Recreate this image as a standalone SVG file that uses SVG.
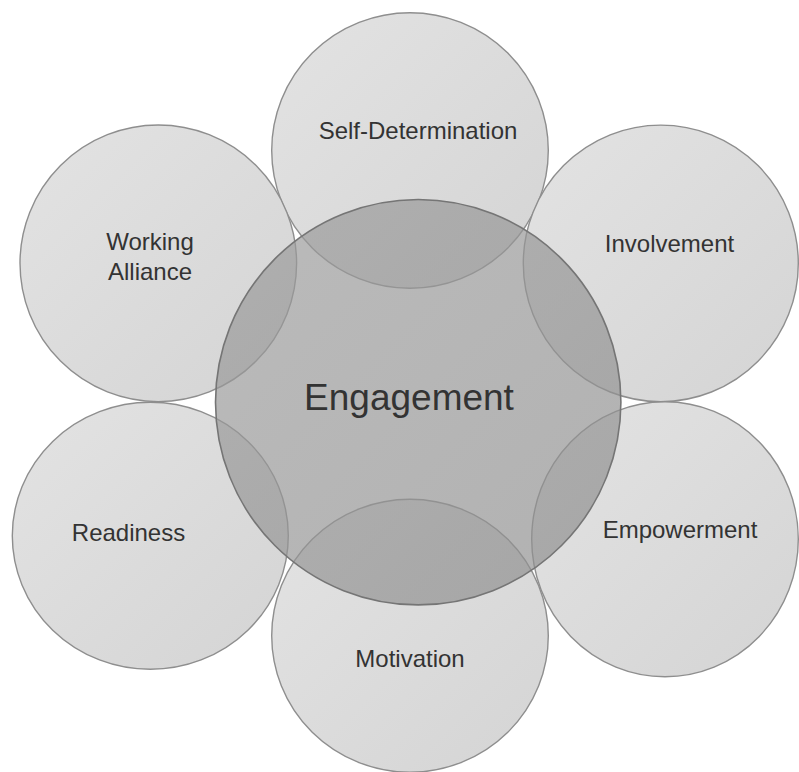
<svg xmlns="http://www.w3.org/2000/svg" width="799" height="772" viewBox="0 0 799 772">
<defs>
<linearGradient id="gOuter" x1="0" y1="0" x2="1" y2="1">
<stop offset="0" stop-color="#e3e3e3"/>
<stop offset="1" stop-color="#d4d4d4"/>
</linearGradient>
<linearGradient id="gCenter" x1="0" y1="0" x2="1" y2="1">
<stop offset="0" stop-color="#9c9c9c"/>
<stop offset="1" stop-color="#8e8e8e"/>
</linearGradient>
<style>
.outer{fill:url(#gOuter);stroke:#8e8e8e;stroke-width:1.4}
.center{fill:url(#gCenter);fill-opacity:0.69;stroke:#757575;stroke-width:1.6}
.lbl{font-family:"Liberation Sans",Arial,sans-serif;font-size:24px;fill:#333333;text-anchor:middle}
.big{font-family:"Liberation Sans",Arial,sans-serif;font-size:37px;fill:#333333;text-anchor:middle}
</style>
</defs>
<rect width="799" height="772" fill="#ffffff"/>
<g id="self-determination">
<ellipse class="outer" cx="410" cy="150.5" rx="138.3" ry="137.8"/>
<text class="lbl" x="418" y="139">Self-Determination</text>
</g>
<g id="working-alliance">
<ellipse class="outer" cx="158.3" cy="263.3" rx="138.3" ry="138.3"/>
<text class="lbl" x="150" y="250">Working</text>
<text class="lbl" x="150" y="280">Alliance</text>
</g>
<g id="involvement">
<ellipse class="outer" cx="660.8" cy="263.4" rx="137.5" ry="138.3"/>
<text class="lbl" x="669.5" y="252">Involvement</text>
</g>
<g id="readiness">
<ellipse class="outer" cx="150.3" cy="535.8" rx="138" ry="133.5"/>
<text class="lbl" x="128.5" y="541">Readiness</text>
</g>
<g id="empowerment">
<ellipse class="outer" cx="665" cy="539.2" rx="133.3" ry="137.5"/>
<text class="lbl" x="680" y="538">Empowerment</text>
</g>
<g id="motivation">
<ellipse class="outer" cx="410" cy="635.8" rx="138.3" ry="136.5"/>
<text class="lbl" x="410" y="667">Motivation</text>
</g>
<g id="engagement">
<circle class="center" cx="418.2" cy="402.2" r="202.7"/>
<text class="big" x="409" y="410">Engagement</text>
</g>
<g id="connectors"/>
</svg>
